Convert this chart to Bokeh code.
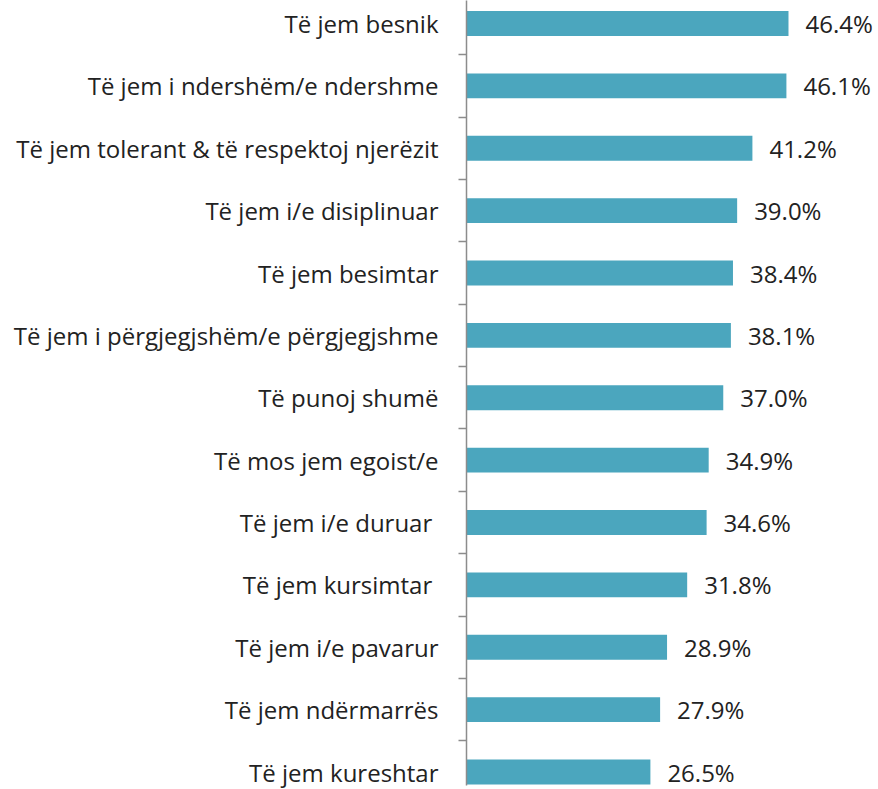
from bokeh.plotting import figure
from bokeh.models import Range1d, LinearAxis, FixedTicker, ColumnDataSource
from bokeh.core.properties import value
from bokeh.embed import file_html
from bokeh.resources import INLINE

categories = [
    "Të jem besnik",
    "Të jem i ndershëm/e ndershme",
    "Të jem tolerant & të respektoj njerëzit",
    "Të jem i/e disiplinuar",
    "Të jem besimtar",
    "Të jem i përgjegjshëm/e përgjegjshme",
    "Të punoj shumë",
    "Të mos jem egoist/e",
    "Të  jem i/e duruar",
    "Të  jem kursimtar",
    "Të jem i/e pavarur",
    "Të jem ndërmarrës",
    "Të jem kureshtar",
]
values = [46.4, 46.1, 41.2, 39.0, 38.4, 38.1, 37.0, 34.9, 34.6, 31.8, 28.9, 27.9, 26.5]
value_labels = [f"{v:.1f}%" for v in values]

idx = list(range(len(categories)))
src = ColumnDataSource(dict(y=idx, v=values, lab=value_labels))

FONT = "Open Sans"
TEXT_COLOR = "#222222"
BAR_COLOR = "#4BA6BE"
AXIS_COLOR = "#8c8c8c"

p = figure(width=878, height=789, output_backend="svg", toolbar_location=None,
           x_range=Range1d(0, 59.37), y_range=Range1d(12.216, -0.3687),
           x_axis_location=None, y_axis_location=None,
           min_border_left=466, min_border_right=0, min_border_top=0, min_border_bottom=4)
p.outline_line_color = None
for g in p.grid:
    g.visible = False
p.background_fill_color = "white"
p.border_fill_color = "white"

ax = LinearAxis(ticker=FixedTicker(ticks=idx,
                                   minor_ticks=[i - 0.5 for i in range(len(categories) + 1)]))
ax.major_label_overrides = {i: c for i, c in enumerate(categories)}
ax.major_tick_line_color = None
ax.major_tick_out = 0
ax.major_tick_in = 0
ax.minor_tick_out = 8
ax.minor_tick_in = 0
ax.minor_tick_line_color = AXIS_COLOR
ax.minor_tick_line_width = 1.5
ax.axis_line_color = AXIS_COLOR
ax.axis_line_width = 1.5
ax.major_label_standoff = 20
ax.major_label_text_font = FONT
ax.major_label_text_font_size = "24px"
ax.major_label_text_color = TEXT_COLOR
p.add_layout(ax, "left")

p.hbar(y="y", right="v", left=0, height=0.4, source=src,
       fill_color=BAR_COLOR, line_color=None)
p.text(x="v", y="y", text="lab", source=src, x_offset=17,
       text_baseline="middle", text_align="left",
       text_font=value(FONT), text_font_size="24px", text_color=TEXT_COLOR)

open("out.html", "w").write(file_html(p, INLINE))
